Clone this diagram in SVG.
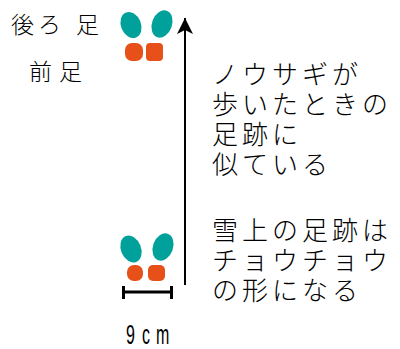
<svg xmlns="http://www.w3.org/2000/svg" width="400" height="349" viewBox="0 0 400 349">
  <style>
    .jp { font-family: "Noto Sans CJK JP", "Noto Sans CJK SC", sans-serif; fill: #000; font-weight: 300; }
    .lbl { font-size: 23px; }
    .note { font-size: 26px; letter-spacing: 4px; }
    .hind { fill: #00a19a; }
    .fore { fill: #e8501a; }
    .num { font-family: "Liberation Sans", Arial, sans-serif; font-size: 16px; fill: #000; }
  </style>
  <defs>
    <!-- arrowhead drawn along +x so orient="auto" points it up the shaft -->
    <marker id="arrowhead" markerWidth="18" markerHeight="18" refX="16" refY="9" orient="auto" markerUnits="userSpaceOnUse" viewBox="0 0 18 18">
      <path d="M16 9 L0 1 L4 9 L0 17 Z" fill="#000"/>
    </marker>
  </defs>

  <rect width="400" height="349" fill="#fff"/>

  <!-- legend labels -->
  <g id="label-hind">
    <text class="jp lbl" x="11 38 76" y="33">後ろ足</text>
  </g>
  <g id="label-fore">
    <text class="jp lbl" x="29 59" y="80">前足</text>
  </g>

  <!-- top track (legend) -->
  <g id="track-top">
    <ellipse class="hind" cx="131" cy="25" rx="10" ry="13.5" transform="rotate(-22 131 25)"/>
    <ellipse class="hind" cx="162" cy="24" rx="10" ry="14" transform="rotate(20 162 24)"/>
    <rect class="fore" x="125" y="43" width="18" height="18" rx="7"/>
    <rect class="fore" x="146" y="43" width="17" height="18" rx="4"/>
  </g>

  <!-- bottom track -->
  <g id="track-bottom">
    <ellipse class="hind" cx="131" cy="249" rx="10" ry="14" transform="rotate(-22 131 249)"/>
    <ellipse class="hind" cx="163" cy="247" rx="10" ry="14" transform="rotate(20 163 247)"/>
    <rect class="fore" x="127" y="265" width="16" height="16" rx="7"/>
    <rect class="fore" x="148" y="265" width="17" height="16" rx="5"/>
  </g>

  <!-- direction of travel and scale bar -->
  <g id="connectors">
    <line x1="185" y1="285" x2="185" y2="18" stroke="#000" stroke-width="2" marker-end="url(#arrowhead)"/>
    <g stroke="#000" stroke-width="3">
      <line x1="122" y1="292" x2="173" y2="292"/>
      <line x1="123.5" y1="286" x2="123.5" y2="299"/>
      <line x1="171.5" y1="286" x2="171.5" y2="299"/>
    </g>
  </g>

  <g id="scale-label">
    <text class="num" transform="translate(0 344) scale(1 1.7)" x="126 142 156" y="0">9cm</text>
  </g>

  <!-- explanatory notes -->
  <g id="note-walk">
    <text class="jp note" x="212" y="84">ノウサギが</text>
    <text class="jp note" x="212" y="114">歩いたときの</text>
    <text class="jp note" x="212" y="144">足跡に</text>
    <text class="jp note" x="212" y="174">似ている</text>
  </g>
  <g id="note-snow">
    <text class="jp note" x="212" y="240">雪上の足跡は</text>
    <text class="jp note" x="212" y="270">チョウチョウ</text>
    <text class="jp note" x="212" y="300">の形になる</text>
  </g>
</svg>
